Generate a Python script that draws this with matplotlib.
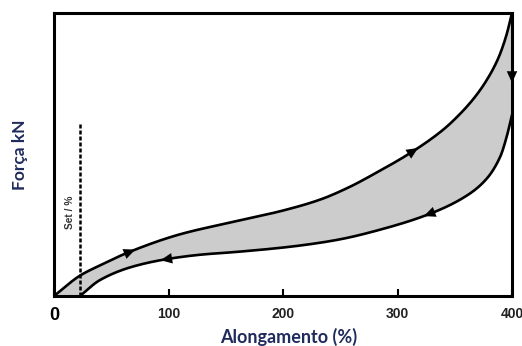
import numpy as np
import matplotlib
matplotlib.use("Agg")
import matplotlib.pyplot as plt

# Loading branch (elongation %, force on a 0-100 scale)
x_load = [0, 22.7, 40, 66, 110, 160, 200, 232, 258, 279, 313, 340, 355, 367, 377, 388, 395, 400]
y_load = [0, 7.2, 10.8, 15.6, 21.8, 26.5, 30.2, 34.0, 38.5, 43.0, 51.0, 58.8, 64.5, 70.0, 75.7, 84.0, 92.0, 100]

# Unloading branch, from the permanent set back up to the turning point
x_unload = [22.7, 40, 68, 98, 128, 160, 204, 232, 252, 279, 328, 361, 378, 390, 395.5, 400]
y_unload = [0, 5.6, 10.3, 13.0, 14.6, 15.6, 17.3, 18.8, 20.2, 22.8, 29.0, 35.6, 41.5, 49.5, 56.5, 64]

set_value = 22.7          # permanent set (%)
set_marker_top = 60.8
x_ticks = [0, 100, 200, 300, 400]
x_tick_labels = ["0", "100", "200", "300", "400"]

navy = "#1f2b5c"


def pchip(x, y, xs):
    """Monotone cubic (Fritsch-Carlson) curve through the points, for drawing."""
    x = np.asarray(x, float)
    y = np.asarray(y, float)
    h = np.diff(x)
    d = np.diff(y) / h
    m = np.zeros_like(x)
    for k in range(1, len(x) - 1):
        if d[k - 1] * d[k] > 0:
            w1 = 2 * h[k] + h[k - 1]
            w2 = h[k] + 2 * h[k - 1]
            m[k] = (w1 + w2) / (w1 / d[k - 1] + w2 / d[k])
    m[0] = d[0]
    m[-1] = d[-1]
    idx = np.clip(np.searchsorted(x, xs) - 1, 0, len(x) - 2)
    t = (xs - x[idx]) / h[idx]
    h00 = 2 * t**3 - 3 * t**2 + 1
    h10 = t**3 - 2 * t**2 + t
    h01 = -2 * t**3 + 3 * t**2
    h11 = t**3 - t**2
    return h00 * y[idx] + h10 * h[idx] * m[idx] + h01 * y[idx + 1] + h11 * h[idx] * m[idx + 1]


xs_load = np.linspace(x_load[0], x_load[-1], 600)
ys_load = pchip(x_load, y_load, xs_load)
xs_unload = np.linspace(x_unload[0], x_unload[-1], 600)
ys_unload = pchip(x_unload, y_unload, xs_unload)

fig = plt.figure(figsize=(5.22, 3.46), dpi=100)
ax = fig.add_axes([54 / 522, 1 - 296 / 346, (512 - 54) / 522, (296 - 13) / 346])
ax.set_xlim(0, 400)
ax.set_ylim(0, 100)

# hysteresis area
poly_x = np.concatenate([xs_load, [400], xs_unload[::-1], [0]])
poly_y = np.concatenate([ys_load, [y_unload[-1]], ys_unload[::-1], [0]])
ax.fill(poly_x, poly_y, color="#cccccc", lw=0, zorder=1)

ax.plot(xs_load, ys_load, color="black", lw=1.9, zorder=3, solid_capstyle="round")
ax.plot(xs_unload, ys_unload, color="black", lw=1.9, zorder=3, solid_capstyle="round")
ax.plot([400, 400], [100, y_unload[-1]], color="black", lw=1.9, zorder=3)

# permanent-set marker
ax.plot([set_value, set_value], [0, set_marker_top], color="black", lw=1.8,
        linestyle=(0, (1.6, 0.8)), zorder=3)
ax.text(14, 29.7, "Set / %", rotation=90, ha="center", va="center",
        fontsize=7.3, fontweight="bold", color="#333333", family="Liberation Sans")

# direction arrows on the curves
head = "-|>,head_length=0.6,head_width=0.27"


def curve_arrow(xc, ys_fn, forward):
    dx = 5 if forward else -5
    x0, x1 = xc - dx, xc + dx
    y0, y1 = ys_fn(np.array([x0]))[0], ys_fn(np.array([x1]))[0]
    ax.annotate("", xy=(x1, y1), xytext=(x0, y0),
                arrowprops=dict(arrowstyle=head, mutation_scale=14, color="black",
                                lw=0, shrinkA=0, shrinkB=0), zorder=4)


curve_arrow(66, lambda v: pchip(x_load, y_load, v), True)
curve_arrow(313, lambda v: pchip(x_load, y_load, v), True)
curve_arrow(98, lambda v: pchip(x_unload, y_unload, v), False)
curve_arrow(328, lambda v: pchip(x_unload, y_unload, v), False)
ax.annotate("", xy=(400, 75.3), xytext=(400, 84),
            arrowprops=dict(arrowstyle=head, mutation_scale=14, color="black",
                            lw=0, shrinkA=0, shrinkB=0), zorder=4, annotation_clip=False)

for s in ax.spines.values():
    s.set_linewidth(2.2)
    s.set_color("black")
    s.set_zorder(5)

ax.set_yticks([])
ax.set_xticks(x_ticks)
ax.set_xticklabels(x_tick_labels)
ax.tick_params(axis="x", direction="in", length=5, width=1.5, pad=8)
for lab in ax.get_xticklabels():
    lab.set_family("Liberation Sans")
    lab.set_fontweight("bold")
    lab.set_fontsize(10)
    lab.set_color("#222222")
ax.get_xticklabels()[0].set_fontsize(13)
ax.get_xticklabels()[0].set_color("black")

fig.text(289 / 522, 1 - 343 / 346, "Alongamento (%)", ha="center", va="baseline",
         fontsize=13, fontweight="bold", color=navy, family="Lato")
fig.text(20 / 522, 1 - 155 / 346, "Força kN", ha="center", va="center", rotation=90,
         fontsize=12.5, fontweight="bold", color=navy, family="Lato")

fig.savefig("out.png", dpi=100)
